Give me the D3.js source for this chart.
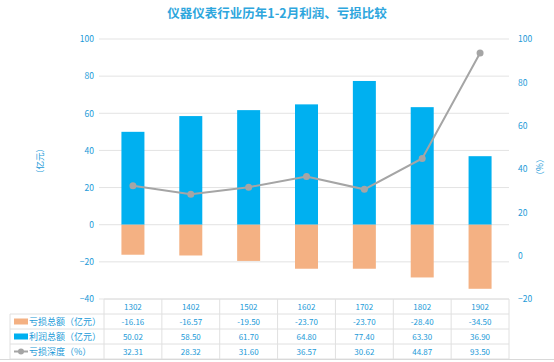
<!DOCTYPE html>
<html>
<head>
<meta charset="utf-8">
<script src="https://cdn.jsdelivr.net/npm/d3@7"></script>
<style>
  body { margin: 0; background: #fff; }
  text { font-family: "Noto Sans CJK SC", "Noto Sans", sans-serif; }
</style>
</head>
<body>
<div id="chart"></div>
<script>
// data
var categories = ["1302", "1402", "1502", "1602", "1702", "1802", "1902"];
var lossTotal = [-16.16, -16.57, -19.50, -23.70, -23.70, -28.40, -34.50];
var profitTotal = [50.02, 58.50, 61.70, 64.80, 77.40, 63.30, 36.90];
var lossDepth = [32.31, 28.32, 31.60, 36.57, 30.62, 44.87, 93.50];
var leftTicks = [100, 80, 60, 40, 20, 0, -20, -40];
var rightTicks = [100, 80, 60, 40, 20, 0, -20];
var seriesNames = ["亏损总额（亿元）", "利润总额（亿元）", "亏损深度（%）"];

var svgWidth = 554;
var svgHeight = 362;

var blue = "#00b0f0";
var orange = "#f4b183";
var grey = "#a5a5a5";
var textBlue = "#1b9ad8";

var plot = { left: 104, right: 509, top: 39, bottom: 299 };

var svg = d3.select("#chart")
  .append("svg")
  .attr("width", svgWidth)
  .attr("height", svgHeight);

svg.append("rect")
  .attr("width", svgWidth).attr("height", svgHeight)
  .attr("fill", "#fff");

// title
svg.append("text")
  .attr("x", 277).attr("y", 18)
  .attr("text-anchor", "middle")
  .attr("font-size", 12.5)
  .attr("font-weight", "bold")
  .attr("fill", "#2ea6dd")
  .text("仪器仪表行业历年1-2月利润、亏损比较");

// scales
var x = d3.scaleBand()
  .domain(categories)
  .range([plot.left, plot.right]);

var yLeft = d3.scaleLinear()
  .domain([-40, 100])
  .range([plot.bottom, plot.top]);

var yRight = d3.scaleLinear()
  .domain([-20, 100])
  .range([plot.bottom, plot.top]);

// gridlines
svg.append("g")
  .selectAll("line")
  .data(leftTicks)
  .enter()
  .append("line")
  .attr("x1", plot.left - 5)
  .attr("x2", plot.right)
  .attr("y1", d => yLeft(d))
  .attr("y2", d => yLeft(d))
  .attr("stroke", "#e3e3e3")
  .attr("stroke-width", 1);

// left axis
var leftAxis = svg.append("g")
  .attr("transform", `translate(${plot.left - 10},0)`)
  .call(d3.axisLeft(yLeft).tickValues(leftTicks).tickSize(0).tickPadding(0));
leftAxis.select(".domain").remove();
leftAxis.selectAll("text")
  .attr("font-size", 8.5)
  .attr("fill", textBlue)
  .attr("font-family", "Noto Sans, sans-serif");

// right axis
var rightAxis = svg.append("g")
  .attr("transform", `translate(${plot.right + 9},0)`)
  .call(d3.axisRight(yRight).tickValues(rightTicks).tickSize(0).tickPadding(0));
rightAxis.select(".domain").remove();
rightAxis.selectAll("text")
  .attr("font-size", 8.5)
  .attr("fill", textBlue)
  .attr("font-family", "Noto Sans, sans-serif");

// axis titles
svg.append("text")
  .attr("transform", "translate(43,161) rotate(-90)")
  .attr("text-anchor", "middle")
  .attr("font-size", 8.5)
  .attr("fill", textBlue)
  .text("（亿元）");

svg.append("text")
  .attr("transform", "translate(543,167) rotate(-90)")
  .attr("text-anchor", "middle")
  .attr("font-size", 8.5)
  .attr("fill", textBlue)
  .text("（%）");

// bars
var barW = 23;

svg.append("g")
  .selectAll("rect")
  .data(profitTotal)
  .enter()
  .append("rect")
  .attr("x", (d, i) => x(categories[i]) + x.bandwidth() / 2 - barW / 2)
  .attr("y", d => yLeft(d))
  .attr("width", barW)
  .attr("height", d => yLeft(0) - yLeft(d))
  .attr("fill", blue);

svg.append("g")
  .selectAll("rect")
  .data(lossTotal)
  .enter()
  .append("rect")
  .attr("x", (d, i) => x(categories[i]) + x.bandwidth() / 2 - barW / 2)
  .attr("y", yLeft(0))
  .attr("width", barW)
  .attr("height", d => yLeft(d) - yLeft(0))
  .attr("fill", orange);

// line
var line = d3.line()
  .x((d, i) => x(categories[i]) + x.bandwidth() / 2)
  .y(d => yRight(d));

svg.append("path")
  .datum(lossDepth)
  .attr("d", line)
  .attr("fill", "none")
  .attr("stroke", grey)
  .attr("stroke-width", 2);

svg.append("g")
  .selectAll("circle")
  .data(lossDepth)
  .enter()
  .append("circle")
  .attr("cx", (d, i) => x(categories[i]) + x.bandwidth() / 2)
  .attr("cy", d => yRight(d))
  .attr("r", 3.5)
  .attr("fill", grey);

// data table
var rowH = 15;
var tableTop = 299;
var tableLeft = 10;
var rows = [lossTotal, profitTotal, lossDepth];
var tbl = svg.append("g");

// horizontal lines
var hLines = [0, 1, 2, 3, 4];
tbl.selectAll("line.h")
  .data(hLines)
  .enter()
  .append("line")
  .attr("x1", d => d === 0 ? plot.left : tableLeft)
  .attr("x2", plot.right)
  .attr("y1", d => tableTop + d * rowH)
  .attr("y2", d => tableTop + d * rowH)
  .attr("stroke", "#e0e0e0");

// vertical lines
var vEdges = categories.map(c => x(c)).concat([plot.right]);
tbl.selectAll("line.v")
  .data(vEdges)
  .enter()
  .append("line")
  .attr("x1", d => d)
  .attr("x2", d => d)
  .attr("y1", tableTop)
  .attr("y2", tableTop + 4 * rowH)
  .attr("stroke", "#e0e0e0");

tbl.append("line")
  .attr("x1", tableLeft).attr("x2", tableLeft)
  .attr("y1", tableTop + rowH).attr("y2", tableTop + 4 * rowH)
  .attr("stroke", "#e0e0e0");

// header
tbl.selectAll("text.head")
  .data(categories)
  .enter()
  .append("text")
  .attr("x", d => x(d) + x.bandwidth() / 2)
  .attr("y", tableTop + rowH / 2 + 3)
  .attr("text-anchor", "middle")
  .attr("font-size", 8)
  .attr("fill", textBlue)
  .text(d => d);

// values
rows.forEach(function(vals, r) {
  tbl.selectAll("text.r" + r)
    .data(vals)
    .enter()
    .append("text")
    .attr("x", (d, i) => x(categories[i]) + x.bandwidth() / 2)
    .attr("y", tableTop + (r + 1) * rowH + rowH / 2 + 3)
    .attr("text-anchor", "middle")
    .attr("font-size", 8)
    .attr("fill", textBlue)
    .text(d => d.toFixed(2));
});

// legend keys in the table
seriesNames.forEach(function(name, r) {
  var cy = tableTop + (r + 1) * rowH + rowH / 2;
  if (r < 2) {
    tbl.append("rect")
      .attr("x", 14).attr("y", cy - 3)
      .attr("width", 14).attr("height", 6)
      .attr("fill", r === 0 ? orange : blue);
  } else {
    tbl.append("line")
      .attr("x1", 14).attr("x2", 28)
      .attr("y1", cy).attr("y2", cy)
      .attr("stroke", grey).attr("stroke-width", 2);
    tbl.append("circle")
      .attr("cx", 21).attr("cy", cy).attr("r", 3)
      .attr("fill", grey);
  }
  tbl.append("text")
    .attr("x", 29)
    .attr("y", cy + 3.5)
    .attr("font-size", 9)
    .attr("fill", textBlue)
    .text(name);
});

// bottom frame line
svg.append("line")
  .attr("x1", 0).attr("x2", svgWidth)
  .attr("y1", 359.5).attr("y2", 359.5)
  .attr("stroke", "#d9d9d9");
</script>
</body>
</html>
